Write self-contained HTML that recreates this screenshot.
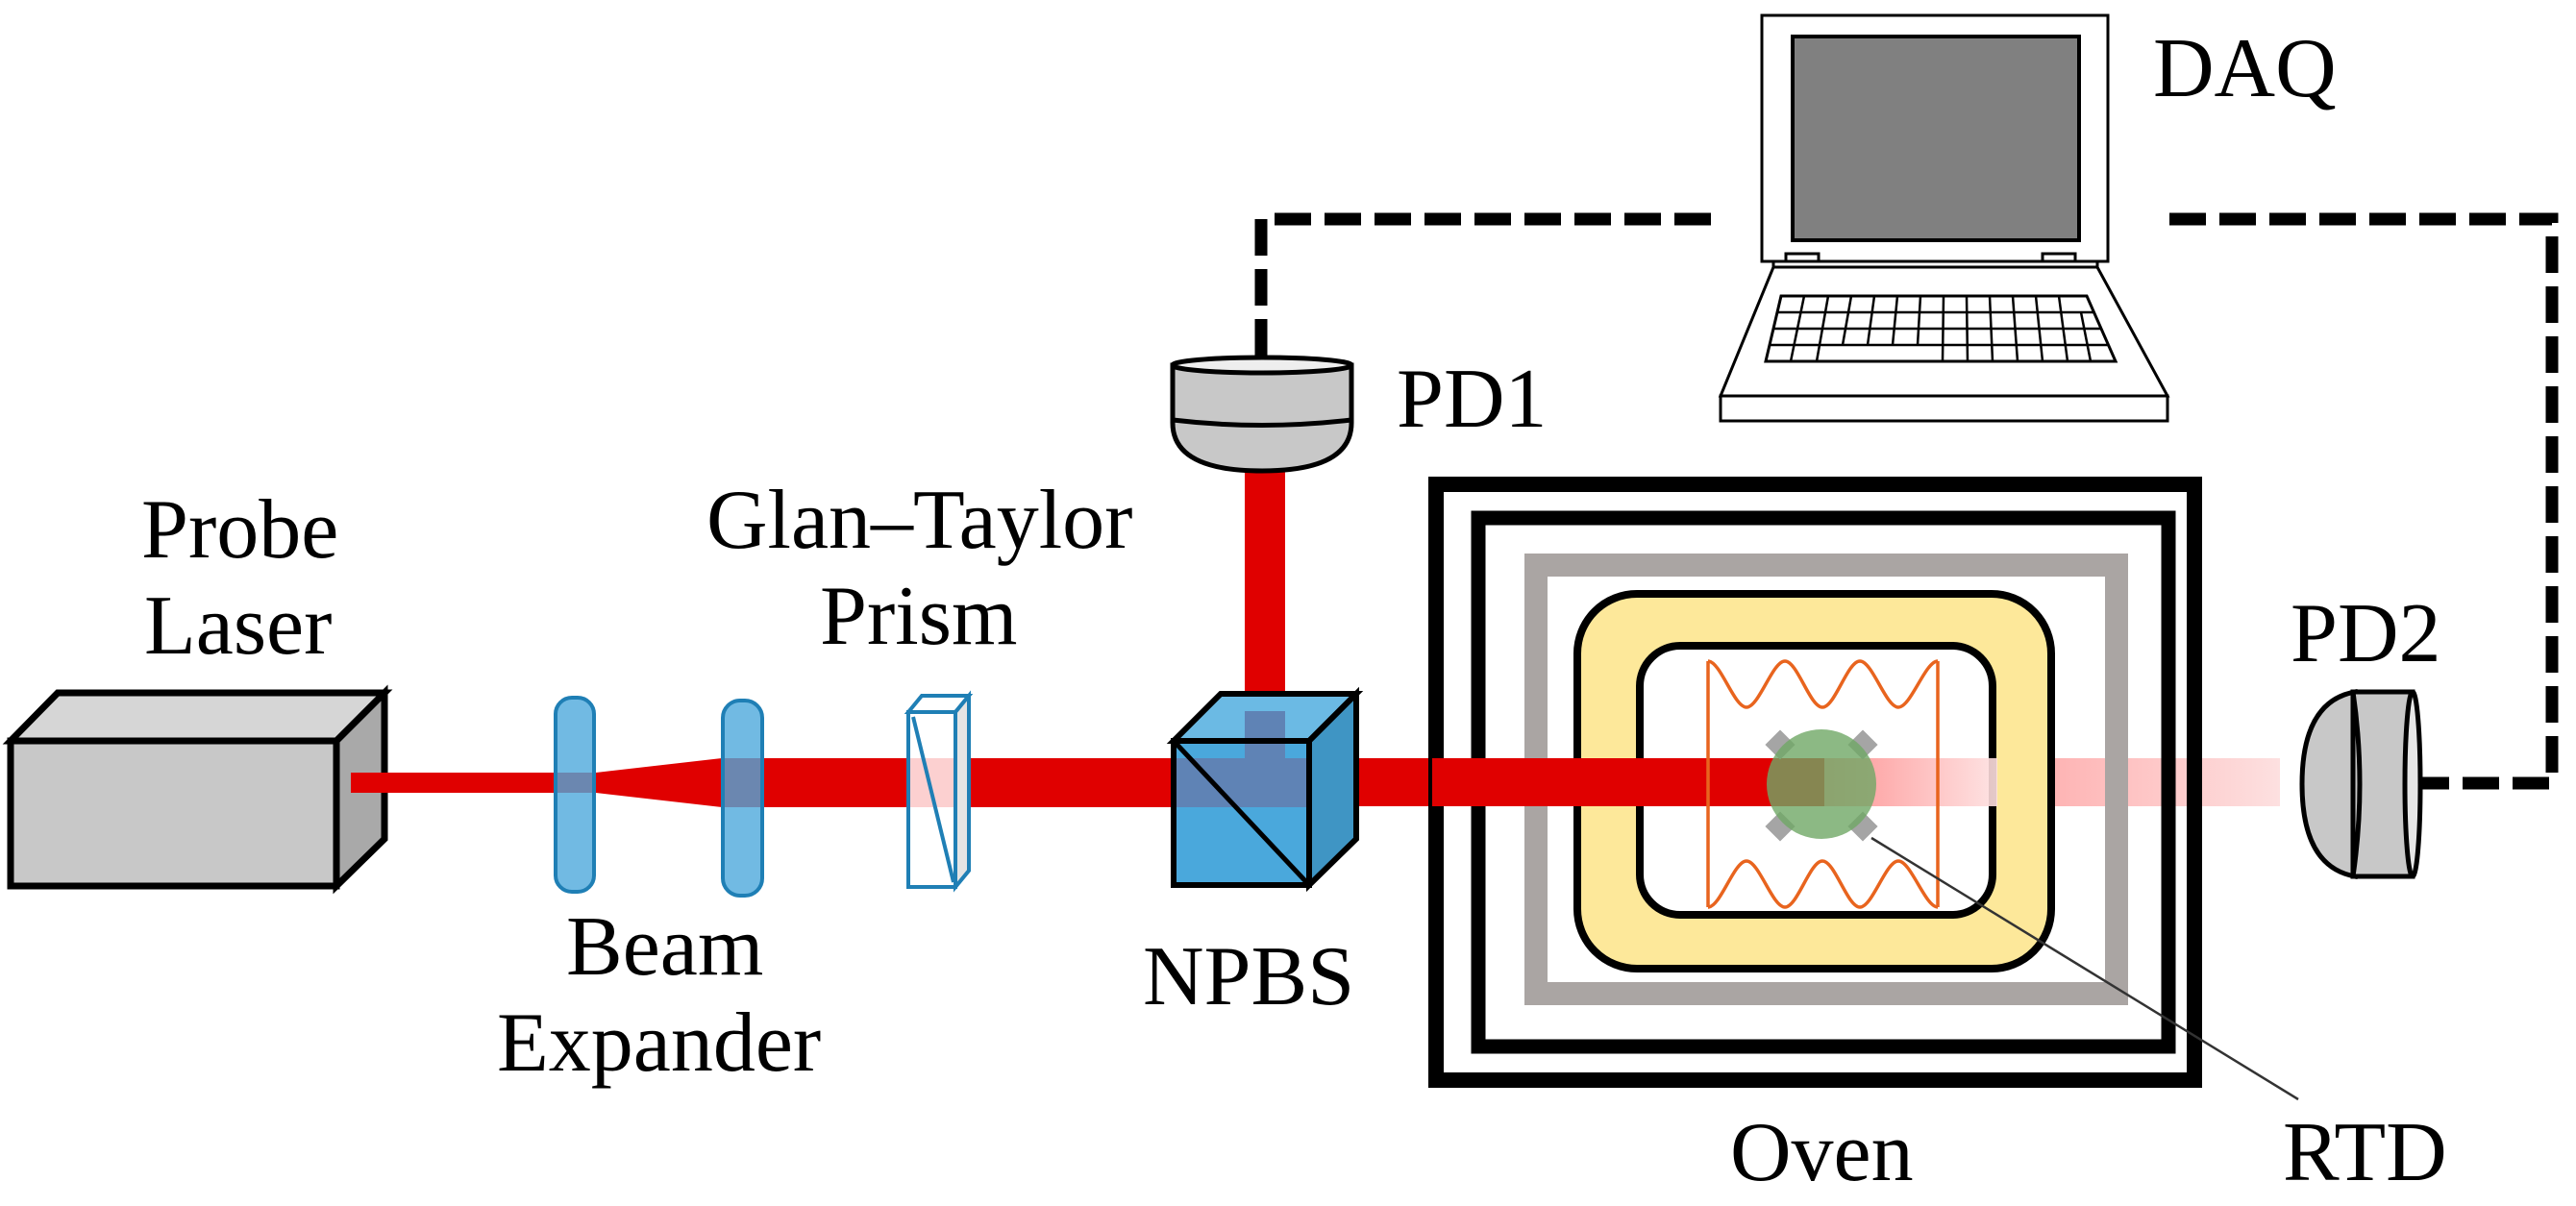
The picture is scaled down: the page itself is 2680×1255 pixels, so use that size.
<!DOCTYPE html>
<html><head><meta charset="utf-8"><style>
html,body{margin:0;padding:0;background:#fff;width:2680px;height:1255px;overflow:hidden}
svg{display:block}
text{font-family:"Liberation Serif",serif;font-size:88px;fill:#000}
</style></head><body>
<svg width="2680" height="1255" viewBox="0 0 2680 1255" xmlns="http://www.w3.org/2000/svg">
<defs>
<linearGradient id="pink" x1="0" x2="1" y1="0" y2="0">
<stop offset="0" stop-color="#f88" /><stop offset="1" stop-color="#fde0e0"/>
</linearGradient>
</defs>
<g stroke="#000" stroke-width="13" fill="none" stroke-dasharray="38 14">
<path d="M1312 370 L1312 228 L1790 228"/>
<path d="M2257 228 L2655 228 L2655 815 L2517 815"/>
</g>
<g stroke="#000" stroke-width="3" fill="#fff">
<rect x="1833" y="16" width="360" height="256"/>
<rect x="1865" y="38" width="298" height="212" fill="#808080" stroke-width="4"/>
<rect x="1845" y="272" width="337" height="6"/>
<path d="M1845 278 L2182 278 L2255 412 L1790 412 Z"/>
<rect x="1790" y="412" width="465" height="26"/>
<rect x="1858" y="264" width="34" height="8"/>
<rect x="2125" y="264" width="34" height="8"/>
<path d="M1853 308 L2171 308 L2201 376 L1837 376 Z"/>
</g>
<g stroke="#000" stroke-width="2.5" fill="none">
<line x1="1849" y1="325" x2="2179" y2="325"/>
<line x1="1845" y1="342" x2="2186" y2="342"/>
<line x1="1841" y1="359" x2="2194" y2="359"/>
<path d="M1877 308 L1863 376 M1902 308 L1890 376 M1926 308 L1917 359 M1950 308 L1943 359 M1974 308 L1969 359 M1998 308 L1995 359 M2022 308 L2021 376 M2046 308 L2047 376 M2070 308 L2073 376 M2094 308 L2099 376 M2118 308 L2125 376 M2142 308 L2151 376 M2165 325 L2175 376"/>
</g>
<text x="2240" y="100">DAQ</text>
<text x="1453" y="444">PD1</text>
<text x="2383" y="688">PD2</text>
<text x="147" y="580">Probe</text>
<text x="150" y="680">Laser</text>
<text x="735" y="570">Glan–Taylor</text>
<text x="853" y="670">Prism</text>
<text x="589" y="1014">Beam</text>
<text x="517" y="1114">Expander</text>
<text x="1189" y="1045">NPBS</text>
<text x="1800" y="1228">Oven</text>
<text x="2375" y="1228">RTD</text>
<g stroke="#000" stroke-width="7" stroke-linejoin="miter">
<polygon points="11,771 60,721 400,721 350,771" fill="#d6d6d6"/>
<polygon points="350,771 400,721 400,873 350,922" fill="#a9a9a9"/>
<rect x="11" y="771" width="339" height="151" fill="#c8c8c8"/>
</g>
<rect x="365" y="804" width="215" height="21" fill="#e00000"/>
<polygon points="580,804 620,804 751,789 751,840 620,825 580,825" fill="#e00000"/>
<rect x="751" y="789" width="470" height="51" fill="#e00000"/>
<rect x="1378" y="789" width="520" height="50" fill="#e00000"/>
<rect x="1898" y="789" width="474" height="50" fill="url(#pink)"/>
<rect x="1295" y="490" width="42" height="260" fill="#e00000"/>
<g stroke="#1f7fb5" stroke-width="4" fill="#4ea9dc" fill-opacity="0.8">
<rect x="578" y="726" width="40" height="202" rx="17"/>
<rect x="752" y="729" width="41" height="203" rx="18"/>
</g>
<g stroke="#1f7fb5" stroke-width="4" fill="#fff">
<polygon points="945,741 959,724 1008,724 994,741"/>
<polygon points="994,741 1008,724 1008,906 994,923" fill="#e4e4e4"/>
<rect x="945" y="741" width="49" height="182" fill="#fff"/>
</g>
<rect x="947" y="789" width="46" height="51" fill="#fcd0d0"/>
<line x1="950" y1="746" x2="992" y2="918" stroke="#1f7fb5" stroke-width="4"/>
<rect x="945" y="741" width="49" height="182" fill="none" stroke="#1f7fb5" stroke-width="4"/>
<g stroke="#000" stroke-width="6">
<polygon points="1221,771 1270,722 1411,722 1362,771" fill="#6bbae4"/>
<polygon points="1362,771 1411,722 1411,873 1362,921" fill="#3f95c4"/>
<rect x="1221" y="771" width="141" height="150" fill="#4aa8dc"/>
</g>
<rect x="1224" y="789" width="136" height="51" fill="#5f83b5"/>
<rect x="1295" y="740" width="42" height="49" fill="#5f83b5"/>
<line x1="1221" y1="771" x2="1362" y2="921" stroke="#000" stroke-width="5"/>
<rect x="1221" y="771" width="141" height="150" fill="none" stroke="#000" stroke-width="6"/>
<g stroke="#000" stroke-width="5" fill="#c8c8c8">
<path d="M1220 380 L1220 440 Q1220 490 1313 490 Q1406 490 1406 440 L1406 380 Z"/>
<path d="M1220 437 Q1313 448 1406 437" fill="none"/>
<ellipse cx="1313" cy="380" rx="93" ry="8" fill="#eee"/>
</g>
<g stroke="#000" stroke-width="5" fill="#c8c8c8">
<path d="M2450 720 Q2395 730 2395 816 Q2395 902 2450 912 Z"/>
<rect x="2448" y="720" width="62" height="192"/>
<path d="M2448 720 Q2462 816 2448 912" fill="none"/>
<ellipse cx="2510" cy="816" rx="8" ry="96" fill="#e6e6e6"/>
</g>
<rect x="1494" y="504" width="789" height="620" fill="none" stroke="#000" stroke-width="16"/>
<rect x="1538" y="539" width="718" height="550" fill="none" stroke="#000" stroke-width="15"/>
<rect x="1598" y="588" width="604" height="446" fill="none" stroke="#aaa5a3" stroke-width="24"/>
<rect x="1641" y="618" width="493" height="390" rx="62" fill="#fde89a" stroke="#000" stroke-width="8"/>
<rect x="1706" y="672" width="367" height="280" rx="42" fill="#fff" stroke="#000" stroke-width="8"/>
<rect x="1702" y="789" width="196" height="50" fill="#e00000"/>
<rect x="1898" y="789" width="180" height="50" fill="url(#pink)" opacity="0.9"/>
<rect x="1490" y="789" width="212" height="50" fill="#e00000"/>
<g stroke="#e8641e" stroke-width="3.5" fill="none">
<path d="M1777 688 C1790 688 1804 736 1817 736 C1830 736 1844 688 1857 688 C1870 688 1883 736 1896 736 C1909 736 1922 688 1935 688 C1948 688 1962 736 1975 736 C1988 736 2003 688 2016 688"/>
<path d="M1777 944 C1790 944 1804 896 1817 896 C1830 896 1844 944 1857 944 C1870 944 1883 896 1896 896 C1909 896 1922 944 1935 944 C1948 944 1962 896 1975 896 C1988 896 2003 944 2016 944"/>
<line x1="1777" y1="688" x2="1777" y2="944"/>
<line x1="2016" y1="688" x2="2016" y2="944"/>
</g>
<g fill="#a5a5a5">
<rect x="1841" y="764" width="22" height="22" transform="rotate(45 1852 775)"/>
<rect x="1927" y="764" width="22" height="22" transform="rotate(45 1938 775)"/>
<rect x="1841" y="849" width="22" height="22" transform="rotate(45 1852 860)"/>
<rect x="1927" y="849" width="22" height="22" transform="rotate(45 1938 860)"/>
</g>
<circle cx="1895" cy="816" r="57" fill="#6fa865" fill-opacity="0.8"/>
<line x1="1947" y1="872" x2="2391" y2="1144" stroke="#333" stroke-width="2.5"/>
</svg>
</body></html>
